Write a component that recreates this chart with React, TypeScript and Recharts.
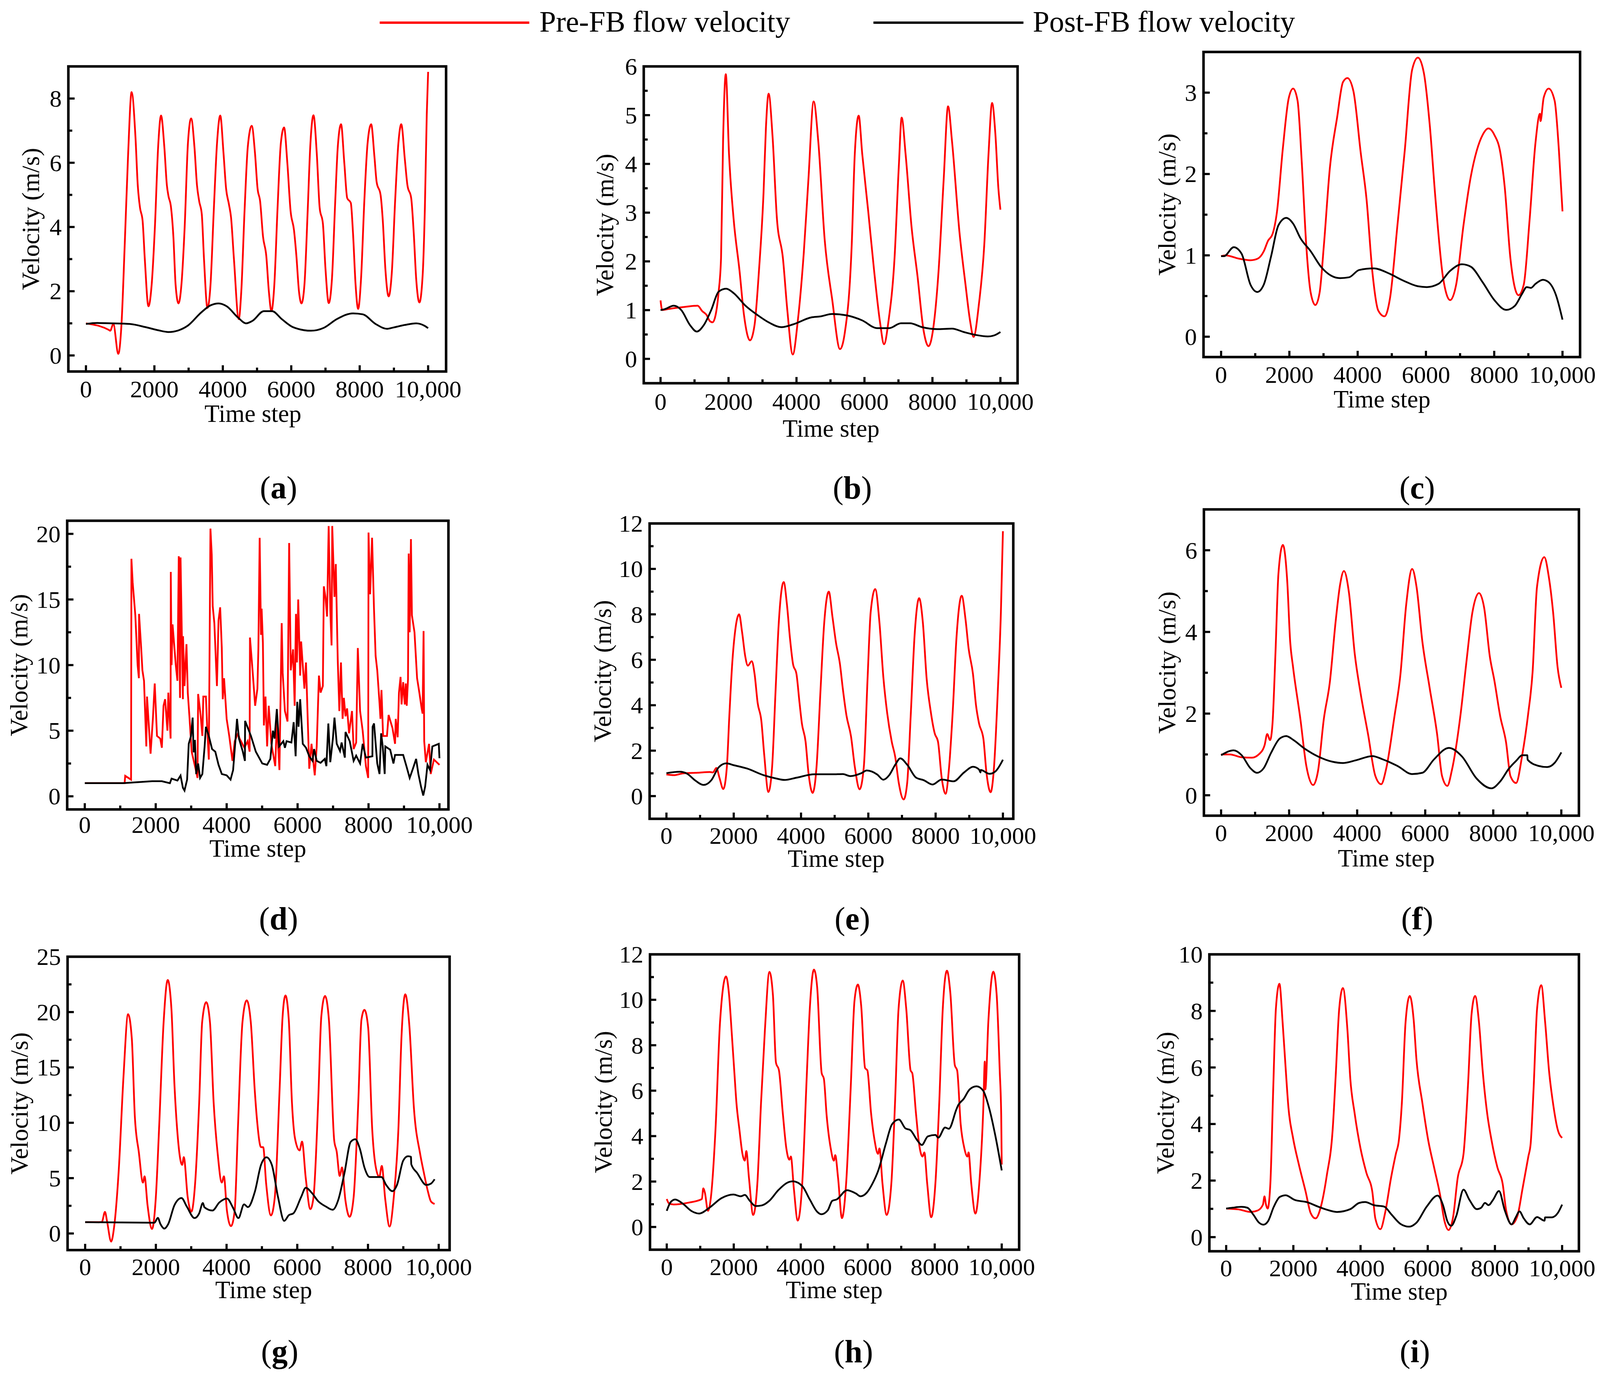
import React from "react";
import { LineChart, Line, XAxis, YAxis, ReferenceArea, Label } from "recharts";

const FONT = "'Liberation Serif', 'Times New Roman', serif";
const RED = "#ff0000";
const BLACK = "#000000";
const PAD = 170;

const xMajorTicks = [0, 2000, 4000, 6000, 8000, 10000];
const xMinorTicks = [1000, 3000, 5000, 7000, 9000];

const aPre = [[0,1],[660,.8],[710,.77],[800,.98],[946,.05],[1040,1],[1135,3.5],[1230,6.2],[1334,8.2],[1447,6.8],[1514,5.3],[1580,4.6],[1655,4.2],[1720,3],[1826,1.53],[1920,2.2],[2015,4],[2110,6.5],[2195,7.47],[2290,6.5],[2365,5.3],[2412,4.96],[2480,4.66],[2555,3.7],[2620,2.2],[2705,1.62],[2790,2.2],[2885,4],[2980,6.6],[3075,7.38],[3170,6.5],[3245,5.3],[3310,4.8],[3385,4.4],[3450,3],[3550,1.48],[3640,2.2],[3735,4.5],[3830,6.6],[3925,7.47],[4020,6.3],[4095,5.2],[4180,4.7],[4240,4.3],[4325,3],[4465,1.13],[4540,2],[4635,4.5],[4730,6.5],[4845,7.15],[4940,6.3],[5015,5.2],[5090,4.8],[5175,3.7],[5270,3.1],[5345,2],[5420,1.38],[5505,2.2],[5600,4.6],[5695,6.6],[5790,7.1],[5885,6],[5980,4.5],[6080,3.9],[6150,3.1],[6225,2],[6300,1.62],[6385,2.2],[6480,4.5],[6555,6.5],[6650,7.48],[6745,6.3],[6830,4.6],[6925,4.1],[7000,2.7],[7095,1.63],[7190,2.4],[7285,4.8],[7360,6.5],[7455,7.2],[7550,6],[7635,4.9],[7740,4.75],[7805,3.8],[7880,2.2],[7955,1.45],[8040,2.4],[8135,4.8],[8230,6.6],[8335,7.2],[8430,6.2],[8495,5.4],[8610,5],[8675,4.2],[8750,2.7],[8845,1.84],[8940,2.6],[9035,4.8],[9130,6.6],[9215,7.2],[9320,6.1],[9395,5.3],[9505,4.9],[9580,3.8],[9650,2.4],[9745,1.65],[9840,2.5],[9905,4.6],[9960,7.5],[10000,8.83]];
const aPost = [[0,.98],[330,1.01],[800,1],[1280,.98],[1750,.88],[2130,.78],[2410,.73],[2700,.78],[2980,.93],[3360,1.33],[3640,1.56],[3880,1.62],[4115,1.53],[4445,1.18],[4680,1],[4870,1.08],[5200,1.38],[5440,1.38],[5725,1.13],[6055,.88],[6575,.77],[6950,.86],[7330,1.13],[7805,1.31],[8090,1.28],[8465,.98],[8800,.83],[8985,.87],[9320,.95],[9650,1],[9885,.93],[10000,.85]];

const bPre = [[0,1.2],[50,1],[210,1.02],[650,1.06],[1090,1.09],[1225,.98],[1355,.9],[1445,.78],[1530,.75],[1620,.9],[1710,1.38],[1780,2.07],[1840,4.47],[1920,5.84],[2015,4.2],[2150,2.87],[2325,1.8],[2455,.9],[2630,.38],[2765,.69],[2895,1.8],[3030,3.4],[3100,4.73],[3180,5.44],[3295,4.57],[3425,2.87],[3600,2.07],[3730,1],[3890,.09],[4040,.79],[4215,2.18],[4350,3.67],[4505,5.28],[4640,4.47],[4830,2.44],[5050,1.22],[5280,.2],[5420,.53],[5625,2.34],[5715,4.2],[5830,4.99],[5935,4.2],[6110,3.03],[6285,1.8],[6460,.74],[6575,.3],[6710,.79],[6885,2.07],[7010,3.94],[7095,4.95],[7210,4.2],[7385,2.71],[7560,1.7],[7740,.58],[7885,.26],[8045,.74],[8180,1.8],[8330,3.67],[8460,5.18],[8575,4.47],[8795,2.6],[8970,1.54],[9105,.79],[9210,.45],[9365,1.11],[9525,2.34],[9650,4.2],[9755,5.25],[9850,4.63],[9940,3.5],[10000,3.06]];
const bPost = [[0,1],[125,1.02],[390,1.09],[610,1],[870,.69],[1065,.56],[1270,.69],[1490,1],[1710,1.38],[1930,1.44],[2150,1.35],[2500,1.09],[2850,.9],[3205,.74],[3555,.65],[3910,.71],[4435,.85],[4700,.87],[5050,.92],[5490,.89],[5930,.79],[6375,.63],[6725,.63],[7075,.73],[7340,.73],[7695,.65],[8135,.61],[8575,.62],[8925,.55],[9280,.49],[9630,.46],[9850,.49],[10000,.55]];

const cPre = [[0,.99],[130,1],[515,.96],[860,.94],[1075,.96],[1250,1.05],[1375,1.18],[1505,1.26],[1635,1.53],[1810,2.32],[1980,2.93],[2110,3.05],[2240,2.9],[2365,2.13],[2495,1.12],[2625,.54],[2760,.39],[2885,.54],[3010,1.12],[3185,2.07],[3400,2.7],[3570,3.13],[3700,3.18],[3875,3.02],[4090,2.26],[4260,1.69],[4430,.8],[4605,.32],[4785,.25],[4950,.48],[5165,1.37],[5380,2.29],[5595,3.28],[5765,3.43],[5940,3.24],[6110,2.61],[6280,1.69],[6500,.73],[6710,.45],[6885,.64],[7100,1.37],[7315,1.97],[7490,2.29],[7660,2.48],[7830,2.56],[8005,2.48],[8180,2.26],[8305,1.85],[8475,.96],[8710,.51],[8865,.64],[9035,1.43],[9210,2.39],[9340,2.74],[9355,2.65],[9450,2.94],[9595,3.05],[9770,2.9],[9895,2.29],[10000,1.54]];
const cPost = [[0,.99],[85,.99],[370,1.1],[600,1.02],[860,.64],[1060,.55],[1250,.64],[1465,.99],[1680,1.37],[1910,1.46],[2110,1.39],[2325,1.21],[2625,1.05],[2925,.86],[3225,.75],[3485,.72],[3745,.73],[4045,.82],[4475,.84],[4905,.78],[5335,.69],[5765,.62],[6025,.61],[6370,.65],[6710,.81],[7055,.89],[7315,.86],[7660,.67],[8005,.45],[8350,.33],[8605,.38],[8820,.53],[8950,.61],[9075,.6],[9210,.65],[9425,.7],[9595,.67],[9810,.51],[10000,.21]];

const dPre = [[0,1],[1123,1],[1140,1.56],[1305,1.27],[1315,18.1],[1350,16.3],[1425,13.8],[1490,10],[1525,9],[1530,13.9],[1590,11.3],[1625,9.6],[1670,8.8],[1735,3.8],[1755,7.6],[1855,3.25],[1920,5.9],[1972,8.6],[2036,4.6],[2128,4.4],[2173,3.7],[2220,6.9],[2265,7.4],[2330,5],[2356,7.9],[2420,4.4],[2425,17.1],[2447,10],[2475,13.1],[2566,10],[2612,8.8],[2650,18.3],[2685,7.5],[2700,18.2],[2767,7.4],[2770,12.2],[2812,8.4],[2867,11.6],[2904,7.9],[2950,6.1],[3013,3.4],[3132,2],[3178,1.4],[3196,7.8],[3269,6.1],[3315,4.6],[3342,7.6],[3415,7.6],[3452,5.2],[3497,2.8],[3543,20.4],[3580,18.4],[3607,14.5],[3653,13.2],[3726,8.4],[3771,13.4],[3817,14.4],[3863,11.3],[3890,7.4],[3927,9],[4000,5.9],[4073,4.6],[4164,2.7],[4228,4.2],[4320,4.8],[4365,4.4],[4500,3.7],[4593,4.2],[4648,3.4],[4657,12.1],[4730,9.6],[4803,6.9],[4867,8.2],[4894,11.2],[4931,19.7],[4968,12.3],[4986,14.3],[5022,11.7],[5050,5.4],[5095,7.6],[5141,3.8],[5187,6.9],[5260,4],[5370,2.3],[5415,5.7],[5488,2],[5552,13.2],[5580,9.4],[5643,6.5],[5716,5.7],[5762,19.3],[5808,9.6],[5872,11.2],[5917,6.9],[5954,13.9],[5982,10.2],[6018,15],[6073,9.2],[6100,11.8],[6192,8.2],[6237,10.2],[6283,6.1],[6329,2.1],[6392,4],[6484,1.6],[6539,3.8],[6602,9.2],[6648,7.9],[6712,8.4],[6740,16],[6785,15.2],[6831,13.7],[6876,20.6],[6922,14.2],[6958,11.5],[6977,20.6],[7040,15.2],[7077,17.7],[7132,10.4],[7177,6.5],[7223,10.2],[7269,5.9],[7305,7.5],[7351,6.1],[7396,6.7],[7451,4.8],[7534,6.5],[7580,3.6],[7652,4.1],[7698,11.3],[7762,6.5],[7835,5],[7926,2.3],[7990,1.4],[8000,20.1],[8045,15.4],[8100,19.7],[8155,14.2],[8200,10.7],[8246,9.6],[8310,7.1],[8337,5.9],[8365,8.1],[8410,4.6],[8520,4.6],[8566,6.2],[8675,5.2],[8748,4],[8767,5.9],[8821,4.5],[8858,7.9],[8903,9.1],[8931,7],[8977,8.7],[9022,7],[9050,8.6],[9077,6.9],[9113,8.9],[9132,18.5],[9160,12.5],[9196,19.6],[9223,13.8],[9296,12.5],[9369,9],[9433,7.9],[9497,6.7],[9525,6.3],[9552,12.6],[9570,4.2],[9616,2.6],[9707,4],[9753,1.7],[9844,2.8],[10000,2.4]];
const dPost = [[0,1],[1078,1],[1900,1.15],[2173,1.15],[2400,1],[2447,1.35],[2612,1.2],[2700,1.58],[2767,.65],[2812,.44],[2885,1.27],[2931,4],[2995,4.6],[3041,6],[3068,3.35],[3105,4.3],[3141,1.7],[3196,2.5],[3251,1.4],[3315,1.7],[3379,3.8],[3415,5.3],[3497,4.6],[3589,3.6],[3680,3.4],[3771,2.4],[3863,1.7],[4000,1.6],[4110,1.27],[4182,2],[4246,4.2],[4292,5.9],[4347,4.4],[4456,3.4],[4515,2.7],[4520,5.75],[4685,4.6],[4822,3.4],[5004,2.5],[5141,2.4],[5232,2.85],[5305,5],[5351,4.4],[5415,6.65],[5479,3.8],[5598,4.2],[5643,3.7],[5689,4.2],[5826,4.1],[5890,5.65],[5945,3.05],[5990,7.2],[6027,5.3],[6073,7.4],[6146,4],[6237,3.7],[6329,3.05],[6420,2.7],[6465,3.6],[6539,2.7],[6648,2.55],[6767,2.85],[6812,2.3],[6867,5.55],[6922,2.6],[6995,4.4],[7040,6],[7104,4],[7196,3.45],[7241,4.1],[7332,2.95],[7351,4.9],[7470,4.2],[7580,2.7],[7652,3.1],[7762,2.5],[7835,4],[7926,2.95],[8109,3.05],[8115,5.3],[8155,5.55],[8246,2.5],[8310,1.7],[8356,4.8],[8400,3.8],[8456,1.7],[8474,3.8],[8611,3.55],[8703,2.5],[8748,3.15],[8977,3.15],[9068,2.3],[9160,1.4],[9251,2.1],[9342,2.85],[9406,1.7],[9479,.75],[9543,.06],[9597,.75],[9662,2.4],[9735,2],[9799,3.8],[9890,3.9],[9981,4],[10000,2.9]];

const ePre = [[0,.95],[222,.92],[490,1],[935,1.03],[1290,1.06],[1380,1.04],[1485,1.24],[1575,.81],[1690,.31],[1795,1.27],[1870,3.55],[1955,5.83],[2045,7.3],[2160,8],[2250,7.2],[2340,6.17],[2420,5.74],[2535,5.94],[2620,5.37],[2710,4.11],[2820,3.32],[2905,1.84],[3030,.18],[3140,1.27],[3245,4.69],[3335,7.54],[3485,9.42],[3580,8.45],[3670,6.97],[3760,5.83],[3865,5.37],[3955,4.11],[4025,3.2],[4135,2.4],[4220,1.04],[4345,.14],[4460,1.27],[4580,4.69],[4685,7.54],[4825,9],[4935,7.88],[5040,6.74],[5155,5.83],[5245,4.69],[5350,3.55],[5485,2.63],[5600,1.27],[5740,.3],[5865,1.27],[5980,5.26],[6070,8.1],[6205,9.11],[6330,7.65],[6445,5.26],[6560,3.66],[6695,2.4],[6800,1.72],[6905,.58],[7050,-.15],[7155,.58],[7260,3.55],[7380,7.19],[7510,8.71],[7620,7.65],[7735,5.14],[7850,3.77],[7975,2.75],[8070,2.4],[8180,.81],[8295,.1],[8400,1.27],[8510,3.77],[8620,6.97],[8775,8.82],[8890,7.76],[8980,6.5],[9110,5.37],[9200,4],[9290,3.2],[9420,2.52],[9510,1.04],[9635,.17],[9735,1.27],[9850,4.69],[9940,8.1],[10000,11.66]];
const ePost = [[0,1.01],[400,1.07],[620,.98],[845,.7],[1110,.49],[1335,.7],[1555,1.27],[1780,1.44],[2000,1.36],[2400,1.21],[2890,.92],[3245,.78],[3510,.71],[3865,.81],[4400,.96],[4935,.96],[5245,.97],[5465,.88],[5780,1],[5955,1.13],[6265,.95],[6445,.72],[6620,.92],[6800,1.38],[6950,1.66],[7155,1.38],[7420,.81],[7645,.7],[7910,.51],[8180,.73],[8535,.65],[8845,1.04],[9110,1.29],[9290,1.17],[9335,1.04],[9340,1.15],[9600,.98],[9780,1.09],[10000,1.6]];

const fPre = [[0,1],[260,1],[605,.93],[905,.92],[1120,1.01],[1280,1.23],[1355,1.5],[1440,1.35],[1510,1.74],[1600,3.52],[1685,5.42],[1815,6.13],[1945,5.23],[2030,3.77],[2115,3.14],[2330,1.87],[2505,.72],[2705,.25],[2850,.6],[3020,1.87],[3195,2.76],[3370,4.28],[3500,5.17],[3610,5.49],[3755,4.98],[3930,3.45],[4100,2.5],[4320,1.49],[4535,.47],[4705,.27],[4855,.66],[5095,1.93],[5270,2.95],[5440,4.66],[5615,5.54],[5745,5.1],[5915,3.77],[6130,2.63],[6350,1.49],[6495,.47],[6650,.23],[6780,.6],[7040,1.99],[7210,3.26],[7385,4.47],[7580,4.95],[7730,4.6],[7900,3.39],[8030,2.82],[8205,1.93],[8375,1.3],[8505,.47],[8670,.3],[8850,.98],[9025,1.99],[9155,3.01],[9285,5.1],[9500,5.83],[9630,5.36],[9760,4.47],[9890,3.14],[10000,2.63]];
const fPost = [[0,.98],[370,1.1],[605,.98],[865,.66],[1055,.55],[1250,.66],[1470,1.04],[1725,1.39],[1915,1.45],[2115,1.36],[2460,1.14],[2850,.95],[3280,.82],[3585,.79],[3975,.86],[4445,.96],[4750,.88],[5180,.72],[5615,.52],[5915,.55],[6260,.88],[6695,1.16],[7080,.95],[7510,.41],[7945,.17],[8205,.34],[8465,.66],[8680,.85],[8850,.98],[9000,.98],[9010,.87],[9325,.72],[9585,.69],[9800,.79],[10000,1.05]];

const gPre = [[0,1.02],[470,1.02],[560,1.95],[620,1.09],[735,-.73],[820,.61],[950,5.7],[1085,14.2],[1215,19.8],[1320,17.6],[1405,10.6],[1520,7.3],[1635,4.6],[1680,5.16],[1765,2.55],[1890,.41],[2000,3.3],[2090,9.4],[2220,19.1],[2335,22.9],[2440,20.3],[2525,13.5],[2615,8.9],[2745,6.2],[2790,6.9],[2900,3.3],[3005,1.97],[3110,4.5],[3225,11.8],[3310,19.1],[3425,20.9],[3530,19.1],[3635,11.8],[3750,7.17],[3865,4.6],[3925,5.16],[4010,2.07],[4125,.66],[4230,2.07],[4320,9.4],[4450,19.1],[4570,21.06],[4685,19.1],[4800,12.8],[4860,10.3],[4975,7.8],[5035,7.8],[5120,4.5],[5255,1.63],[5365,3.3],[5500,13],[5585,19.6],[5665,21.5],[5760,19.3],[5850,11.8],[5935,8.6],[6065,7.5],[6135,8.3],[6240,5],[6370,2.2],[6460,3.3],[6590,11.8],[6680,19.6],[6785,21.45],[6895,19.3],[7045,8.4],[7115,7.4],[7200,5.2],[7265,5.96],[7360,3.04],[7480,1.5],[7595,3.3],[7725,11.8],[7815,19.3],[7900,20.2],[8005,18.6],[8120,9.4],[8210,6.2],[8320,5.1],[8390,6.1],[8490,3.04],[8610,.63],[8730,3.3],[8860,9.4],[8950,17.9],[9055,21.6],[9170,18.8],[9300,11.3],[9475,7.2],[9580,5.5],[9695,3.8],[9780,2.9],[9885,2.67]];
const gPost = [[0,1.02],[1960,.97],[2055,1.41],[2130,.85],[2240,.44],[2350,.85],[2525,2.55],[2725,3.2],[2875,2.43],[3095,1.39],[3225,1.82],[3330,2.75],[3375,2.36],[3600,2.07],[3795,2.8],[4010,3.16],[4185,2.31],[4335,1.39],[4495,2.63],[4605,2.38],[4800,3.77],[4975,6.2],[5130,6.88],[5280,6.2],[5455,3.3],[5630,1.14],[5760,1.65],[5890,1.82],[6110,3.3],[6240,4.13],[6415,3.65],[6590,2.92],[6810,2.43],[7000,2.14],[7160,3.04],[7335,5.47],[7510,8.27],[7640,8.51],[7770,7.66],[7900,5.96],[8050,5.1],[8380,5.1],[8515,4.38],[8690,3.82],[8820,4.38],[8995,6.57],[9130,6.98],[9215,6.93],[9225,6.25],[9390,5.47],[9650,4.38],[9780,4.5],[9885,4.9]];

const hPre = [[0,1.23],[70,1.03],[205,.99],[650,1.07],[1050,1.23],[1090,1.7],[1140,1.5],[1230,.71],[1320,1.33],[1455,4.28],[1590,9],[1770,11.03],[1855,10.3],[1945,8.43],[2020,6.77],[2080,5.47],[2170,4.28],[2260,3.22],[2330,2.92],[2375,3.34],[2455,2.15],[2580,.53],[2705,1.92],[2815,5.47],[2930,8.66],[3065,11.23],[3170,10.2],[3260,7.24],[3350,6.89],[3465,5],[3570,3.46],[3660,2.96],[3705,3.1],[3795,1.68],[3910,.28],[4045,1.92],[4180,6.65],[4270,9.6],[4395,11.33],[4490,10.56],[4625,6.77],[4690,6.53],[4775,4.88],[4895,3.46],[4990,2.92],[5030,3.16],[5115,2.15],[5230,.39],[5355,1.92],[5490,6.06],[5605,9.96],[5705,10.67],[5805,9.73],[5920,7],[5990,6.89],[6100,5],[6205,3.81],[6305,3.22],[6350,3.46],[6440,1.92],[6565,.53],[6705,1.92],[6815,5.47],[6920,9.6],[7045,10.85],[7150,9.6],[7280,6.89],[7330,6.77],[7440,5],[7530,3.69],[7635,3.1],[7690,3.28],[7775,1.92],[7895,.43],[8020,1.92],[8135,5.47],[8240,9.6],[8365,11.28],[8465,10.32],[8600,7.12],[8670,6.89],[8775,4.52],[8885,3.46],[8975,3.1],[9010,3.28],[9090,1.92],[9215,.59],[9330,1.92],[9450,5.23],[9495,7.28],[9510,6.06],[9600,9.02],[9750,11.24],[9850,10.2],[9940,6.89],[9985,4.88],[10000,2.75]];
const hPost = [[0,.71],[115,1.09],[250,1.21],[475,1.03],[740,.7],[965,.59],[1275,.85],[1635,1.27],[1990,1.43],[2215,1.35],[2330,1.41],[2480,1.15],[2660,.92],[2840,.95],[3060,1.15],[3330,1.62],[3600,1.95],[3760,2.01],[4045,1.8],[4270,1.21],[4490,.67],[4615,.56],[4805,.73],[4940,1.15],[5070,1.21],[5385,1.62],[5650,1.47],[5785,1.35],[5965,1.5],[6145,1.92],[6320,2.51],[6545,3.69],[6725,4.52],[6930,4.73],[7125,4.34],[7275,4.26],[7480,3.81],[7615,3.61],[7795,3.99],[8020,4.05],[8105,3.93],[8310,4.38],[8420,4.32],[8645,5.17],[8690,5.33],[8865,5.64],[9045,6.06],[9250,6.19],[9445,6],[9625,5.23],[9805,4.05],[10000,2.49]];

const iPre = [[0,1.01],[370,.98],[720,.89],[935,.94],[1095,1.15],[1140,1.44],[1180,1.18],[1235,1.01],[1315,1.89],[1400,5.22],[1480,8.08],[1585,8.96],[1680,7.6],[1770,5.98],[1855,4.56],[1990,3.51],[2165,2.56],[2365,1.61],[2515,.85],[2660,.66],[2820,1.08],[2995,2.18],[3170,3.8],[3260,5.7],[3365,8.08],[3475,8.81],[3610,7.32],[3695,5.6],[3825,4.37],[4000,3.13],[4175,2.27],[4350,1.61],[4440,.66],[4590,.28],[4730,.85],[4905,2.08],[5050,2.94],[5140,3.42],[5230,4.75],[5340,7.6],[5465,8.53],[5580,7.7],[5665,6.27],[5840,4.75],[6015,3.42],[6190,2.46],[6365,1.51],[6500,.56],[6620,.25],[6760,.75],[6890,2.08],[7065,2.94],[7200,5.41],[7305,7.89],[7410,8.53],[7525,7.6],[7635,5.89],[7770,4.37],[7900,3.42],[8075,2.46],[8230,1.89],[8335,.94],[8495,.45],[8670,.75],[8820,1.7],[8995,2.85],[9065,3.32],[9150,5.22],[9255,8.08],[9380,8.91],[9495,7.6],[9610,5.89],[9740,4.65],[9870,3.8],[10000,3.51]];
const iPost = [[0,1.01],[190,1.04],[455,1.07],[630,1.04],[805,.8],[980,.51],[1110,.44],[1245,.56],[1420,1.08],[1595,1.42],[1770,1.48],[2030,1.32],[2425,1.23],[2730,1.08],[3080,.94],[3300,.89],[3695,.99],[3960,1.21],[4135,1.24],[4395,1.13],[4700,1.08],[4920,.8],[5185,.47],[5445,.37],[5665,.51],[5970,1.08],[6295,1.47],[6455,1.13],[6585,.56],[6700,.4],[6850,.75],[7065,1.68],[7240,1.32],[7460,.99],[7590,1.04],[7705,1.21],[7810,1.13],[7945,1.32],[8120,1.63],[8295,.94],[8495,.45],[8620,.7],[8730,.91],[8860,.66],[9035,.45],[9255,.71],[9475,.58],[9495,.7],[9695,.7],[9870,.85],[10000,1.15]];

const panels = [
  { tag: "a", pre: aPre, post: aPost, frame: [175, 170, 1142, 951], xd: [-514, 10525], yd: [-0.5, 9], major: [0, 2, 4, 6, 8], minor: [1, 3, 5, 7], tickBase: 66, xl: [-11, 129], ylx: 100, cap: [713, 1275] },
  { tag: "b", pre: bPre, post: bPost, frame: [1648, 170, 2605, 981], xd: [-494, 10505], yd: [-0.5, 6], major: [0, 1, 2, 3, 4, 5, 6], minor: [0.5, 1.5, 2.5, 3.5, 4.5, 5.5], tickBase: 68, xl: [1, 137], ylx: 1570, cap: [2182, 1275] },
  { tag: "c", pre: cPre, post: cPost, frame: [3081, 133, 4045, 914], xd: [-515, 10515], yd: [-0.25, 3.5], major: [0, 1, 2, 3], minor: [0.5, 1.5, 2.5], tickBase: 66, xl: [-25, 129], ylx: 3009, cap: [3628, 1275] },
  { tag: "d", pre: dPre, post: dPost, frame: [172, 1333, 1148, 2072], xd: [-496, 10253], yd: [-1, 21], major: [0, 5, 10, 15, 20], minor: [2.5, 7.5, 12.5, 17.5], tickBase: 60, xl: [0, 121], ylx: 70, cap: [713, 2378], linear: true },
  { tag: "e", pre: ePre, post: ePost, frame: [1663, 1340, 2594, 2096], xd: [-500, 10308], yd: [-1, 12], major: [0, 2, 4, 6, 8, 10, 12], minor: [1, 3, 5, 7, 9, 11], tickBase: 64, xl: [12, 123], ylx: 1564, cap: [2182, 2378] },
  { tag: "f", pre: fPre, post: fPost, frame: [3082, 1304, 4042, 2088], xd: [-505, 10517], yd: [-0.5, 7], major: [0, 2, 4, 6], minor: [1, 3, 5], tickBase: 65, xl: [-13, 130], ylx: 3009, cap: [3628, 2378] },
  { tag: "g", pre: gPre, post: gPost, frame: [173, 2449, 1151, 3200], xd: [-497, 10309], yd: [-1.5, 25], major: [0, 5, 10, 15, 20, 25], minor: [2.5, 7.5, 12.5, 17.5, 22.5], tickBase: 64, xl: [13, 123], ylx: 71, cap: [716, 3486] },
  { tag: "h", pre: hPre, post: hPost, frame: [1664, 2443, 2609, 3199], xd: [-500, 10520], yd: [-1, 12], major: [0, 2, 4, 6, 8, 10, 12], minor: [1, 3, 5, 7, 9, 11], tickBase: 65, xl: [-1, 124], ylx: 1566, cap: [2185, 3486] },
  { tag: "i", pre: iPre, post: iPost, frame: [3096, 2443, 4042, 3203], xd: [-500, 10500], yd: [-0.5, 10], major: [0, 2, 4, 6, 8, 10], minor: [1, 3, 5, 7, 9], tickBase: 64, xl: [13, 124], ylx: 3005, cap: [3622, 3486] },
];

const toRows = (pairs: number[][]) => pairs.map(([x, y]) => ({ x, y }));

function Panel({ p }: { p: any }) {
  const [L, T, R, B] = p.frame;
  const w = R - L;
  const h = B - T;
  const xTick = (props: any) => {
    const v = props.payload.value;
    const major = xMajorTicks.includes(v);
    return (
      <g>
        <line x1={props.x} x2={props.x} y1={props.y} y2={props.y - (major ? 16 : 10)} stroke={BLACK} strokeWidth={5.5} />
        {major && (
          <text x={props.x} y={props.y + p.tickBase} textAnchor="middle" fontFamily={FONT} fontSize={62} fill={BLACK}>
            {v === 10000 ? "10,000" : String(v)}
          </text>
        )}
      </g>
    );
  };
  const yTick = (props: any) => {
    const v = props.payload.value;
    const major = p.major.includes(v);
    return (
      <g>
        <line x1={props.x} x2={props.x + (major ? 16 : 10)} y1={props.y} y2={props.y} stroke={BLACK} strokeWidth={5.5} />
        {major && (
          <text x={props.x - 17} y={props.y + 21} textAnchor="end" fontFamily={FONT} fontSize={62} fill={BLACK}>
            {String(v)}
          </text>
        )}
      </g>
    );
  };
  const xLabel = () => (
    <text x={PAD + w / 2 + p.xl[0]} y={PAD + h + p.xl[1]} textAnchor="middle" fontFamily={FONT} fontSize={63} fill={BLACK}>
      Time step
    </text>
  );
  const yLabelX = p.ylx - (L - PAD);
  const yLabel = () => (
    <text
      x={yLabelX}
      y={PAD + h / 2}
      textAnchor="middle"
      transform={`rotate(-90 ${yLabelX} ${PAD + h / 2})`}
      fontFamily={FONT}
      fontSize={64}
      fill={BLACK}
    >
      Velocity (m/s)
    </text>
  );
  const lineType = p.linear ? "linear" : "monotone";
  return (
    <div style={{ position: "absolute", left: L - PAD, top: T - PAD }}>
      <LineChart width={w + 2 * PAD} height={h + 2 * PAD} margin={{ top: PAD, right: PAD, bottom: PAD - 1, left: PAD - 1 }}>
        <XAxis
          type="number"
          dataKey="x"
          domain={p.xd}
          allowDataOverflow
          ticks={[...xMajorTicks, ...xMinorTicks].sort((a, b) => a - b)}
          interval={0}
          height={1}
          tickSize={0}
          tickMargin={0}
          axisLine={false}
          tickLine={false}
          tick={xTick}
        >
          <Label content={xLabel} />
        </XAxis>
        <YAxis
          type="number"
          dataKey="y"
          domain={p.yd}
          allowDataOverflow
          ticks={[...p.major, ...p.minor].sort((a: number, b: number) => a - b)}
          interval={0}
          width={1}
          tickSize={0}
          tickMargin={0}
          axisLine={false}
          tickLine={false}
          tick={yTick}
        >
          <Label content={yLabel} />
        </YAxis>
        <Line data={toRows(p.pre)} dataKey="y" type={lineType} stroke={RED} strokeWidth={4.5} dot={false} isAnimationActive={false} name="Pre-FB flow velocity" />
        <Line data={toRows(p.post)} dataKey="y" type={lineType} stroke={BLACK} strokeWidth={4.5} dot={false} isAnimationActive={false} name="Post-FB flow velocity" />
        <ReferenceArea x1={p.xd[0]} x2={p.xd[1]} y1={p.yd[0]} y2={p.yd[1]} fill="none" stroke={BLACK} strokeWidth={6.5} ifOverflow="visible" />
      </LineChart>
    </div>
  );
}

const legendItems = [
  { label: "Pre-FB flow velocity", color: RED, x1: 972, x2: 1355, tx: 1381 },
  { label: "Post-FB flow velocity", color: BLACK, x1: 2236, x2: 2620, tx: 2644 },
];

export default function App() {
  return (
    <div style={{ position: "absolute", left: 0, top: 0, width: 4113, height: 3530, overflow: "hidden", background: "#fff", fontFamily: FONT, color: "#000" }}>
      {panels.map((p) => (
        <Panel key={p.tag} p={p} />
      ))}
      {panels.map((p) => (
        <div
          key={"cap" + p.tag}
          style={{ position: "absolute", left: p.cap[0], transform: "translateX(-50%)", top: p.cap[1] - 73, fontSize: 82, lineHeight: "normal", whiteSpace: "nowrap" }}
        >
          (<b>{p.tag}</b>)
        </div>
      ))}
      {legendItems.map((it) => (
        <React.Fragment key={it.label}>
          <div style={{ position: "absolute", left: it.x1, top: 55, width: it.x2 - it.x1, height: 6, background: it.color }} />
          <div style={{ position: "absolute", left: it.tx, top: 12, fontSize: 76, lineHeight: "normal", whiteSpace: "nowrap" }}>{it.label}</div>
        </React.Fragment>
      ))}
    </div>
  );
}
